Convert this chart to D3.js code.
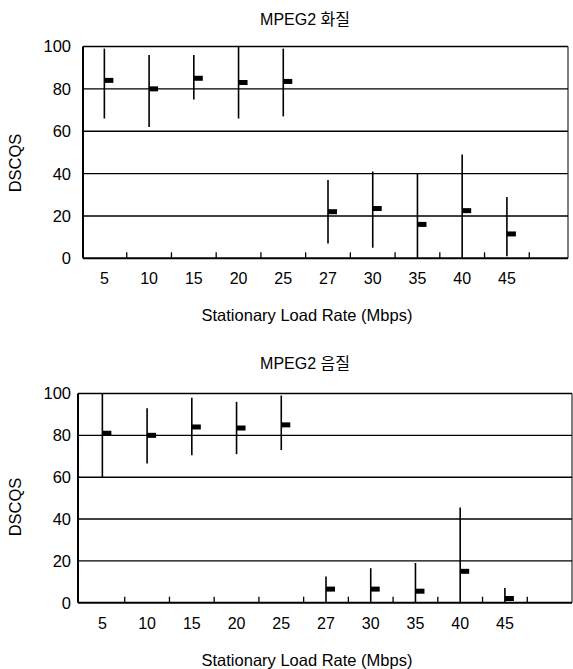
<!DOCTYPE html>
<html><head><meta charset="utf-8">
<script src="https://cdn.jsdelivr.net/npm/d3@7"></script>
<style>body{margin:0;background:#fff}svg{display:block}text{font-family:"Liberation Sans",Arial,sans-serif;fill:#000}</style>
</head><body>
<script>
const categories = ["5","10","15","20","25","27","30","35","40","45"];
const yTickValues = [0,20,40,60,80,100];
const gridValues = [20,40,60,80,100];
const titles = ["MPEG2 화질","MPEG2 음질"];
const xTitle = "Stationary Load Rate (Mbps)";
const yTitle = "DSCQS";
// MPEG2 video quality
const videoMean = [84, 80, 85, 83, 83.5, 22, 23.5, 16, 22.5, 11.5];
const videoLow  = [66, 62, 75, 66, 67, 7, 5, 0, 0, 1];
const videoHigh = [99, 96, 96, 100, 99, 37, 41, 40, 49, 29];
// MPEG2 audio quality
const audioMean = [81, 80, 84, 83.5, 85, 6.5, 6.5, 5.5, 15, 2];
const audioLow  = [60, 66.5, 70.5, 71, 73, 0, 0, 0, 0, 0];
const audioHigh = [100, 93, 98, 96, 99, 12.5, 16.5, 19, 45.5, 7];

const W = 573, H = 669;
const svg = d3.select("body").append("svg").attr("width", W).attr("height", H);

const panels = [
  {title: titles[0], mean: videoMean, low: videoLow, high: videoHigh,
   left: 83, right: 568, top: 46.5, bottom: 258.3, xr: [82, 574],
   titleY: 25, tickLabelY: 284, xTitleY: 321, yTitleY: 163, yLabelX: 71},
  {title: titles[1], mean: audioMean, low: audioLow, high: audioHigh,
   left: 78, right: 572, top: 393.5, bottom: 602.7, xr: [80, 572],
   titleY: 369, tickLabelY: 629, xTitleY: 666, yTitleY: 507, yLabelX: 71}
];

panels.forEach(p => {
  const g = svg.append("g");
  const x = d3.scaleBand().domain(categories.concat([""])).range(p.xr).padding(0);
  const y = d3.scaleLinear().domain([0, 100]).range([p.bottom, p.top]);
  const cx = d => x(d) + x.bandwidth() / 2;

  // title
  g.append("text").attr("x", 305).attr("y", p.titleY).attr("text-anchor", "middle")
    .style("font-size", "16px").style("font-family", "'Liberation Sans','Noto Sans CJK KR',sans-serif")
    .text(p.title);

  // gridlines
  g.selectAll("line.grid").data(gridValues).join("line")
    .attr("x1", p.left).attr("x2", p.right)
    .attr("y1", d => y(d)).attr("y2", d => y(d))
    .attr("stroke", "#000").attr("stroke-width", 1.4);
  // right border
  g.append("line").attr("x1", p.right).attr("x2", p.right).attr("y1", y(100)).attr("y2", y(0))
    .attr("stroke", "#000").attr("stroke-width", 1);
  // left axis line
  g.append("line").attr("x1", p.left).attr("x2", p.left).attr("y1", y(100)).attr("y2", y(0))
    .attr("stroke", "#000").attr("stroke-width", 2);
  // bottom axis line
  g.append("line").attr("x1", p.left).attr("x2", p.right).attr("y1", y(0)).attr("y2", y(0))
    .attr("stroke", "#000").attr("stroke-width", 2);

  // y tick labels
  g.selectAll("text.yl").data(yTickValues).join("text")
    .attr("x", p.yLabelX).attr("y", d => y(d)).attr("dy", "0.36em")
    .attr("text-anchor", "end").style("font-size", "16.5px").text(d => d);

  // x ticks (at band boundaries, pointing up)
  const bounds = categories.map(c => x(c) + x.bandwidth());
  g.selectAll("line.xt").data(bounds).join("line")
    .attr("x1", d => d).attr("x2", d => d)
    .attr("y1", y(0)).attr("y2", y(0) - 6)
    .attr("stroke", "#000").attr("stroke-width", 1.3);

  // x tick labels
  g.selectAll("text.xl").data(categories).join("text")
    .attr("x", d => cx(d)).attr("y", p.tickLabelY).attr("text-anchor", "middle")
    .style("font-size", "16px").text(d => d);

  // axis titles
  g.append("text").attr("x", 307).attr("y", p.xTitleY).attr("text-anchor", "middle")
    .style("font-size", "16.5px").text(xTitle);
  g.append("text").attr("transform", `translate(21,${p.yTitleY}) rotate(-90)`)
    .attr("text-anchor", "middle").style("font-size", "16.5px").text(yTitle);

  // error bars
  const rows = categories.map((c, i) => ({c, m: p.mean[i], lo: p.low[i], hi: p.high[i]}));
  g.selectAll("line.eb").data(rows).join("line")
    .attr("x1", d => cx(d.c)).attr("x2", d => cx(d.c))
    .attr("y1", d => y(d.lo)).attr("y2", d => y(d.hi))
    .attr("stroke", "#000").attr("stroke-width", 1.6);
  g.selectAll("rect.mk").data(rows).join("rect")
    .attr("x", d => cx(d.c)).attr("y", d => y(d.m) - 2.5)
    .attr("width", 9).attr("height", 5).attr("fill", "#000");
});
</script>
</body></html>
